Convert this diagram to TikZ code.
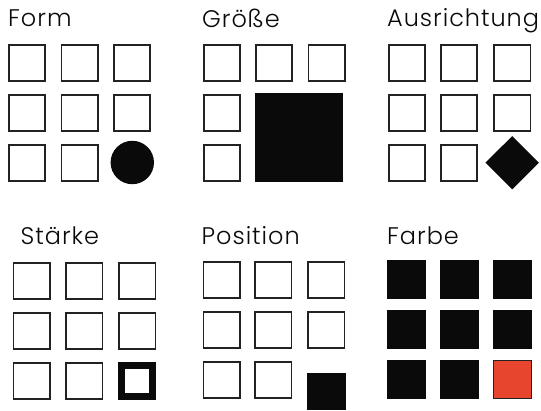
\documentclass[tikz,border=0pt]{standalone}
\usepackage{fontspec}
\setmainfont{Poppins Light}[LetterSpace=4]
\usetikzlibrary{shapes.geometric}
\definecolor{ink}{HTML}{0A0A0A}
\definecolor{edge}{HTML}{222222}
\definecolor{accent}{HTML}{E8452F}
\tikzset{
  cell/.style={draw=edge, line width=1.6pt, fill=white, minimum size=36.4pt, inner sep=0pt},
  solid cell/.style={fill=ink, draw=none, minimum size=39pt, inner sep=0pt},
  title/.style={anchor=base west, inner sep=0pt, font=\fontsize{24}{27}\selectfont, text=ink},
}
\begin{document}
\begin{tikzpicture}[x=1pt,y=-1pt]
\useasboundingbox (0,0) rectangle (541,411);
% Form
\node[title] (t1) at (8,27) {Form};
\foreach \i/\x in {1/27,2/79.5,3/132}
  \foreach \j/\y in {1/63,2/113,3/163}
    {\ifnum\i\j=33\else\node[cell] (f-\i-\j) at (\x,\y) {};\fi}
\node[circle, fill=ink, minimum size=43.4pt, inner sep=0pt] (f-3-3) at (132.3,162.5) {};
% Groesse
\node[title] (t2) at (202,27.5) {Größe};
\foreach \i/\x in {1/222,2/274,3/326.5}
  \foreach \j/\y in {1/63,2/113,3/163}
    {\ifnum\i=1 \node[cell] (g-\i-\j) at (\x,\y) {};\else\ifnum\j=1 \node[cell] (g-\i-\j) at (\x,\y) {};\fi\fi}
\node[fill=ink, minimum width=88.6pt, minimum height=88.7pt, inner sep=0pt] (g-big) at (299,137.7) {};
% Ausrichtung
\node[title] (t3) at (387,26.7) {Ausrichtung};
\foreach \i/\x in {1/407,2/459,3/512.3}
  \foreach \j/\y in {1/63,2/113,3/163}
    {\ifnum\i\j=33\else\node[cell] (a-\i-\j) at (\x,\y) {};\fi}
\node[diamond, fill=ink, minimum width=53.6pt, minimum height=53.4pt, inner sep=0pt, aspect=1] (a-3-3) at (512.2,162.7) {};
% Staerke
\node[title] (t4) at (20.5,245) {Stärke};
\foreach \i/\x in {1/31.8,2/84.3,3/137.2}
  \foreach \j/\y in {1/281,2/331,3/381}
    {\ifnum\i\j=33\else\node[cell] (s-\i-\j) at (\x,\y) {};\fi}
\node[draw=ink, line width=7pt, fill=white, minimum size=31.3pt, inner sep=0pt] (s-3-3) at (137.2,381) {};
% Position
\node[title] (t5) at (201.5,244.3) {Position};
\foreach \i/\x in {1/221.5,2/273.3,3/326.3}
  \foreach \j/\y in {1/280,2/330,3/380}
    {\ifnum\i\j=33\else\node[cell] (p-\i-\j) at (\x,\y) {};\fi}
\node[fill=ink, minimum width=39pt, minimum height=37.3pt, inner sep=0pt] (p-3-3) at (326.2,391.3) {};
% Farbe
\node[title] (t6) at (387,244.7) {Farbe};
\foreach \i/\x in {1/406.7,2/459.7,3/512.3}
  \foreach \j/\y in {1/279.7,2/330,3/380}
    {\ifnum\i\j=33\else\node[solid cell] (c-\i-\j) at (\x,\y) {};\fi}
\node[solid cell, fill=accent, draw=edge, line width=1pt, minimum size=38pt] (c-3-3) at (512.3,380) {};
\end{tikzpicture}
\end{document}
